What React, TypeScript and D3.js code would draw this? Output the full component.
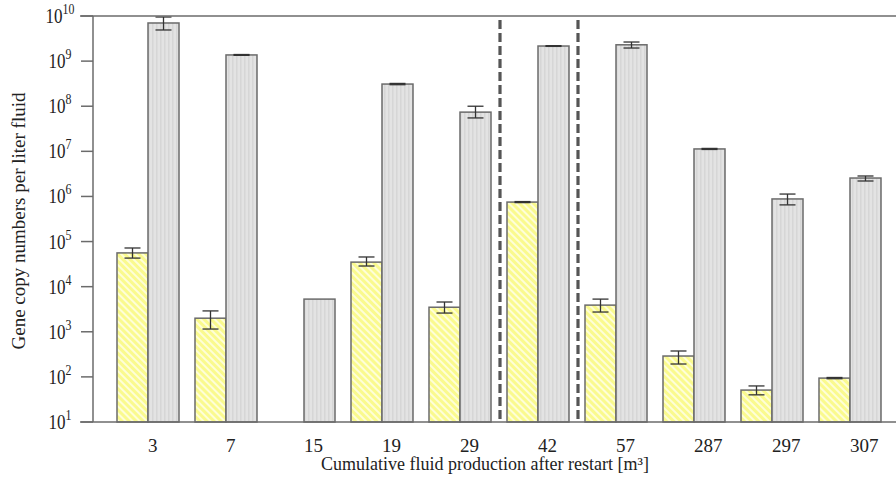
import React from 'react';
import * as d3 from 'd3';

// categories on the x axis (cumulative fluid production, m³)
const categories = ['3', '7', '15', '19', '29', '42', '57', '287', '297', '307'];

// yellow (hatched) series
const yellowValues = [5.6e4, 2.0e3, null, 3.5e4, 3.5e3, 7.5e5, 3.9e3, 290, 51, 94];
const yellowLow = [4.3e4, 1.15e3, null, 2.87e4, 2.6e3, 7.3e5, 2.74e3, 193, 40, 91];
const yellowHigh = [7.2e4, 2.9e3, null, 4.55e4, 4.57e3, 7.7e5, 5.3e3, 375, 63, 97];

// grey series
const greyValues = [7.0e9, 1.37e9, 5.3e3, 3.1e8, 7.4e7, 2.16e9, 2.3e9, 1.13e7, 8.8e5, 2.56e6];
const greyLow = [4.9e9, 1.34e9, null, 3.0e8, 5.5e7, 2.12e9, 1.95e9, 1.1e7, 6.5e5, 2.2e6];
const greyHigh = [9.5e9, 1.4e9, null, 3.2e8, 1.0e8, 2.2e9, 2.65e9, 1.16e7, 1.13e6, 2.84e6];

const yTickExponents = [1, 2, 3, 4, 5, 6, 7, 8, 9, 10];
const dividersAfter = ['29', '42'];

const xLabel = 'Cumulative fluid production after restart [m³]';
const yLabel = 'Gene copy numbers per liter fluid';

const W = 896;
const H = 480;
const left = 93;
const top = 16;
const bottom = 422;

const serif = { fontFamily: "'Liberation Serif', 'Times New Roman', Times, 'DejaVu Serif', serif" };
const edge = '#6b6b6b';

export default function App() {
  const x = d3.scaleBand<string>().domain(categories).range([109, 889]);
  const sub = d3.scaleBand<string>().domain(['y', 'g']).range([0, x.bandwidth()]).paddingOuter(0.258);
  const y = d3.scaleLog().domain([1e1, 1e10]).range([bottom, top]);

  const errBar = (cx: number, lo: number | null, hi: number | null, key: string) => {
    if (lo == null || hi == null) return null;
    const cap = 8;
    return (
      <g key={key} stroke="#333" strokeWidth={1.3}>
        <line x1={cx} x2={cx} y1={y(lo)} y2={y(hi)} />
        <line x1={cx - cap} x2={cx + cap} y1={y(lo)} y2={y(lo)} />
        <line x1={cx - cap} x2={cx + cap} y1={y(hi)} y2={y(hi)} />
      </g>
    );
  };

  return (
    <svg width={W} height={H} style={{ position: 'absolute', left: 0, top: 0, background: '#fff' }}>
      <defs>
        <pattern id="yhatch" width="5" height="5" patternUnits="userSpaceOnUse" patternTransform="rotate(-45)">
          <rect width="5" height="5" fill="#fafa8e" />
          <rect width="2" height="5" fill="#fefed8" />
        </pattern>
        <pattern id="ghatch" width="4" height="4" patternUnits="userSpaceOnUse">
          <rect width="4" height="4" fill="#e3e3e3" />
          <rect width="1.5" height="4" fill="#d6d6d6" />
        </pattern>
      </defs>

      {/* bars */}
      {categories.map((c, i) => {
        const x0 = x(c)!;
        const yv = yellowValues[i];
        const gv = greyValues[i];
        const bw = sub.bandwidth();
        return (
          <g key={c}>
            {yv != null && (
              <rect x={x0 + sub('y')!} y={y(yv)} width={bw} height={bottom - y(yv)}
                fill="url(#yhatch)" stroke={edge} strokeWidth={1.5} />
            )}
            <rect x={x0 + sub('g')!} y={y(gv)} width={bw} height={bottom - y(gv)}
              fill="url(#ghatch)" stroke={edge} strokeWidth={1.5} />
            {errBar(x0 + sub('y')! + bw / 2, yellowLow[i], yellowHigh[i], c + 'ye')}
            {errBar(x0 + sub('g')! + bw / 2, greyLow[i], greyHigh[i], c + 'ge')}
          </g>
        );
      })}

      {/* dashed dividers */}
      {dividersAfter.map(c => {
        const xd = x(c)! + x.bandwidth() + 1;
        return (
          <line key={c} x1={xd} x2={xd} y1={top + 4} y2={bottom} stroke="#555"
            strokeWidth={3.2} strokeDasharray="9,4" />
        );
      })}

      {/* frame */}
      <line x1={left} x2={left} y1={top} y2={bottom} stroke={edge} strokeWidth={1.5} />
      <line x1={80} x2={W} y1={bottom} y2={bottom} stroke={edge} strokeWidth={1.5} />
      <line x1={80} x2={W} y1={top} y2={top} stroke={edge} strokeWidth={1.5} />

      {/* y ticks */}
      {yTickExponents.map(e => {
        const ty = y(Math.pow(10, e));
        return (
          <g key={e}>
            <line x1={81} x2={left} y1={ty} y2={ty} stroke={edge} strokeWidth={1.5} />
            <g transform={`translate(60,${ty + 7}) scale(0.85,1)`}>
              <text textAnchor="middle" style={serif} fontSize={20} fill="#222">
                10<tspan fontSize={14} dy={-9}>{e}</tspan>
              </text>
            </g>
          </g>
        );
      })}

      {/* x tick labels */}
      {categories.map(c => (
        <text key={c} x={x(c)! + x.bandwidth() / 2} y={452} textAnchor="start"
          style={serif} fontSize={19} fill="#222">{c}</text>
      ))}

      {/* axis titles */}
      <text x={485} y={470} textAnchor="middle" style={serif} fontSize={18} fill="#222">{xLabel}</text>
      <text transform={`translate(25,221) rotate(-90)`} textAnchor="middle" style={serif}
        fontSize={19} fill="#222">{yLabel}</text>
    </svg>
  );
}
